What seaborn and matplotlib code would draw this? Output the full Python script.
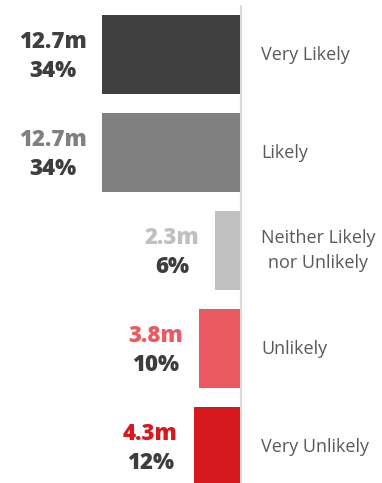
import matplotlib
matplotlib.use("Agg")
import matplotlib.pyplot as plt
import seaborn as sns
import pandas as pd

categories = ["Very Likely", "Likely", "Neither Likely\nnor Unlikely", "Unlikely", "Very Unlikely"]
millions = [12.7, 12.7, 2.3, 3.8, 4.3]
percents = [34, 34, 6, 10, 12]
bar_colors = ["#404040", "#808080", "#c0c0c0", "#eb5a60", "#d7191f"]
value_colors = ["#404040", "#808080", "#c0c0c0", "#eb5a60", "#d7191f"]

sns.set_theme(style="white")
plt.rcParams["font.family"] = ["Open Sans", "DejaVu Sans"]

df = pd.DataFrame({"cat": categories, "val": [-m for m in millions]})

fig = plt.figure(figsize=(3.82, 4.83), dpi=100)
ax = fig.add_axes([0, 0, 1, 1])

sns.barplot(data=df, x="val", y="cat", hue="cat", palette=bar_colors,
            orient="h", width=0.8, legend=False, ax=ax, saturation=1,
            linewidth=0)

px = 10.87  # pixels per million
ax.set_xlim(-240.5 / px, (382 - 240.5) / px)
ax.set_ylim(4 + (483 - 446.5) / 98, -54.5 / 98)
ax.axis("off")

# divider line
ax.plot([0.05, 0.05], [-0.5, 4.4], color="#dcdcdc", lw=1.6, zorder=0, clip_on=False)

fig.canvas.draw()
renderer = fig.canvas.get_renderer()
inv = ax.transData.inverted()

for i, (m, p) in enumerate(zip(millions, percents)):
    xr = -m - 16 / px
    t = ax.text(xr, i - 0.13, f"{m}m", ha="right", va="center", fontsize=16,
                fontweight="heavy", color=value_colors[i])
    bb = t.get_window_extent(renderer)
    xc = inv.transform(((bb.x0 + bb.x1) / 2, 0))[0]
    ax.text(xc, i + 0.17, f"{p}%", ha="center", va="center", fontsize=16,
            fontweight="heavy", color="#3d3d3d")
    ax.text(20.5 / px, i, categories[i], ha="left", va="center", fontsize=13,
            color="#595959", multialignment="center", linespacing=1.45)

fig.savefig("out.png", dpi=100)
